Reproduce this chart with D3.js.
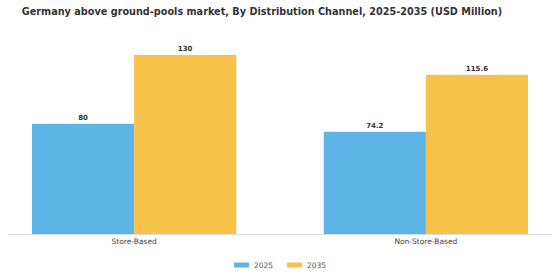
<!DOCTYPE html>
<html>
<head>
<meta charset="utf-8">
<script src="https://cdn.jsdelivr.net/npm/d3@7.9.0/dist/d3.min.js"></script>
<style>
  body { margin: 0; background: #fff; }
  svg { display: block; font-family: "DejaVu Sans", sans-serif; }
</style>
</head>
<body>
<svg width="560" height="280"></svg>
<script>
const categories = ['Store-Based', 'Non-Store-Based'];
const years = ['2025', '2035'];
const values2025 = [80, 74.2];
const values2035 = [130, 115.6];
const colors = ['#5BB4E5', '#F7C24A'];

const svg = d3.select('svg');

svg.append('text')
  .attr('x', 262)
  .attr('y', 15)
  .attr('text-anchor', 'middle')
  .attr('font-size', 9.7)
  .attr('font-weight', 'bold')
  .attr('fill', '#333')
  .text('Germany above ground-pools market, By Distribution Channel, 2025-2035 (USD Million)');

const x0 = d3.scaleBand().domain(categories).range([32, 528]).paddingInner(0.3);
const x1 = d3.scaleBand().domain(years).range([0, x0.bandwidth()]);
const y = d3.scaleLinear().domain([0, 136.5]).range([234, 46]);

const rows = categories.map((c, i) => ({
  category: c,
  vals: [values2025[i], values2035[i]]
}));

const groups = svg.selectAll('g.group')
  .data(rows)
  .join('g')
  .attr('class', 'group')
  .attr('transform', d => `translate(${x0(d.category)},0)`);

groups.selectAll('rect')
  .data(d => d.vals.map((v, j) => ({ year: years[j], value: v, j })))
  .join('rect')
  .attr('x', d => x1(d.year))
  .attr('y', d => y(d.value))
  .attr('width', x1.bandwidth())
  .attr('height', d => y(0) - y(d.value))
  .attr('fill', d => colors[d.j]);

groups.selectAll('text.val')
  .data(d => d.vals.map((v, j) => ({ year: years[j], value: v })))
  .join('text')
  .attr('class', 'val')
  .attr('x', d => x1(d.year) + x1.bandwidth() / 2)
  .attr('y', d => y(d.value) - 4)
  .attr('text-anchor', 'middle')
  .attr('font-size', 7)
  .attr('font-weight', 'bold')
  .attr('fill', '#333')
  .text(d => d.value);

// baseline
svg.append('line')
  .attr('x1', 8).attr('x2', 552)
  .attr('y1', y(0) + 0.5).attr('y2', y(0) + 0.5)
  .attr('stroke', '#ddd');

const xAxis = svg.append('g')
  .attr('transform', `translate(0,${y(0)})`)
  .call(d3.axisBottom(x0).tickSize(0).tickPadding(5));
xAxis.select('.domain').remove();
xAxis.selectAll('text')
  .attr('font-size', 7.5)
  .attr('font-family', '"DejaVu Sans", sans-serif')
  .attr('fill', '#444');

const legend = svg.append('g').attr('transform', 'translate(234,265)');
years.forEach((yr, i) => {
  const g = legend.append('g').attr('transform', `translate(${i * 53},0)`);
  g.append('rect')
    .attr('x', 0).attr('y', -2.5)
    .attr('width', 15).attr('height', 5)
    .attr('fill', colors[i]);
  g.append('text')
    .attr('x', 20).attr('y', 3)
    .attr('font-size', 7.5)
    .attr('fill', '#555')
    .text(yr);
});
</script>
</body>
</html>
